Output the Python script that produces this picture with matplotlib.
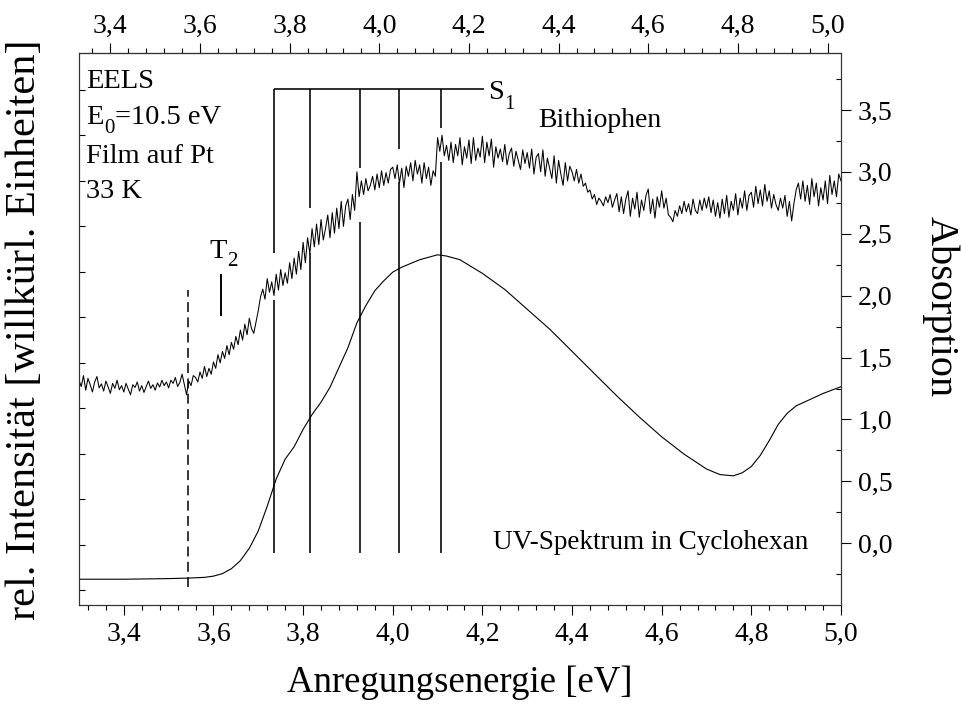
import matplotlib
matplotlib.use('Agg')
import matplotlib.pyplot as plt
from matplotlib.ticker import MultipleLocator, FuncFormatter
import numpy as np

plt.rcParams['font.family'] = ['Liberation Serif', 'DejaVu Serif']

# EELS spectrum (left axis, arb. units), sampled every 0.005 eV from 3.30 to 5.00
eels_intensity = [
    4.62, 4.48, 4.72, 4.40, 4.66, 4.52, 4.36, 4.58, 4.70, 4.45, 4.54, 4.38, 4.60, 4.47, 4.33, 4.55, 4.44, 4.62, 4.41, 4.50,  # 3.30
    4.36, 4.55, 4.42, 4.30, 4.52, 4.46, 4.58, 4.38, 4.50, 4.35, 4.48, 4.60, 4.44, 4.52, 4.40, 4.56, 4.47, 4.62, 4.50, 4.58,  # 3.40
    4.45, 4.62, 4.55, 4.68, 4.48, 4.57, 4.75, 4.52, 4.30, 4.60, 4.50, 4.72, 4.68, 4.58, 4.80, 4.66, 4.92, 4.70, 4.88, 4.75,  # 3.50
    5.02, 4.88, 5.18, 5.00, 5.25, 5.10, 5.38, 5.18, 5.45, 5.30, 5.58, 5.40, 5.72, 5.50, 5.85, 5.62, 5.98, 5.75, 5.65, 5.90,  # 3.60
    6.15, 6.45, 6.62, 6.40, 6.85, 6.55, 6.78, 6.48, 6.95, 6.60, 7.05, 6.70, 6.98, 6.75, 7.20, 6.85, 7.30, 6.95, 7.45, 7.05,  # 3.70
    7.65, 7.20, 7.75, 7.40, 7.95, 7.55, 8.05, 7.60, 8.15, 7.70, 7.95, 8.25, 7.75, 8.30, 7.85, 8.40, 7.95, 8.55, 8.00, 8.45,  # 3.80
    8.60, 8.15, 8.70, 8.35, 9.20, 8.65, 9.00, 8.70, 9.05, 8.78, 8.90, 9.10, 8.80, 9.15, 8.85, 9.22, 8.90, 9.18, 8.95, 9.25,  # 3.90
    9.30, 9.05, 9.35, 8.95, 9.28, 8.85, 9.32, 9.10, 9.40, 9.00, 9.45, 9.15, 9.35, 8.95, 9.40, 9.05, 9.30, 8.90, 9.22, 9.10,  # 4.00
    9.95, 9.65, 10.00, 9.55, 9.78, 9.45, 9.85, 9.40, 9.80, 9.55, 9.95, 9.35, 9.75, 9.50, 9.90, 9.38, 9.95, 9.45, 9.72, 9.52,  # 4.10
    9.98, 9.40, 9.85, 9.55, 9.92, 9.30, 9.75, 9.50, 9.70, 9.42, 9.80, 9.35, 9.60, 9.72, 9.32, 9.65, 9.45, 9.25, 9.68, 9.38,  # 4.20
    9.62, 9.28, 9.70, 9.15, 9.52, 9.60, 9.20, 9.68, 9.10, 9.50, 9.28, 9.05, 9.55, 8.95, 9.45, 9.15, 8.90, 9.40, 9.00, 9.32,  # 4.30
    9.20, 9.00, 9.25, 8.95, 9.15, 8.88, 8.95, 8.75, 8.80, 8.60, 8.70, 8.48, 8.62, 8.55, 8.45, 8.65, 8.52, 8.70, 8.42, 8.58,  # 4.40
    8.72, 8.32, 8.65, 8.28, 8.60, 8.78, 8.22, 8.62, 8.38, 8.75, 8.20, 8.58, 8.35, 8.68, 8.82, 8.28, 8.60, 8.18, 8.65, 8.42,  # 4.50
    8.78, 8.40, 8.62, 8.25, 8.20, 8.10, 8.35, 8.22, 8.45, 8.28, 8.55, 8.32, 8.50, 8.25, 8.60, 8.35, 8.28, 8.58, 8.35, 8.62,  # 4.60
    8.40, 8.65, 8.30, 8.58, 8.22, 8.52, 8.18, 8.60, 8.28, 8.68, 8.20, 8.55, 8.35, 8.72, 8.25, 8.62, 8.40, 8.78, 8.35, 8.68,  # 4.70
    8.75, 8.42, 8.88, 8.50, 8.80, 8.45, 8.92, 8.55, 8.78, 8.40, 8.70, 8.48, 8.35, 8.62, 8.40, 8.68, 8.22, 8.55, 8.12, 8.50,  # 4.80
    8.80, 8.95, 8.60, 9.00, 8.55, 8.90, 8.48, 9.05, 8.65, 8.95, 8.45, 8.85, 8.58, 9.00, 8.50, 9.12, 8.70, 9.00, 8.65, 9.15,  # 4.90
    9.00,                                                                                                                     # 5.00
]
eels_energy = np.linspace(3.30, 5.00, len(eels_intensity))

# UV absorption in cyclohexane (right axis)
uv_energy = [3.30, 3.40, 3.50, 3.55, 3.58, 3.60, 3.62, 3.64, 3.66, 3.68,
             3.70, 3.72, 3.74, 3.76, 3.78, 3.80, 3.82, 3.84, 3.86, 3.88,
             3.90, 3.92, 3.94, 3.96, 3.98, 4.00, 4.02, 4.04, 4.06, 4.08,
             4.10, 4.12, 4.15, 4.20, 4.25, 4.30, 4.35, 4.40, 4.45, 4.50,
             4.55, 4.60, 4.65, 4.70, 4.73, 4.76, 4.78, 4.80, 4.82, 4.84,
             4.86, 4.88, 4.90, 4.93, 4.96, 5.00]
uv_absorption = [-0.29, -0.29, -0.285, -0.28, -0.275, -0.265, -0.245, -0.205, -0.14, -0.04,
                 0.10, 0.30, 0.52, 0.68, 0.78, 0.92, 1.04, 1.14, 1.26, 1.42,
                 1.58, 1.78, 1.92, 2.04, 2.12, 2.19, 2.23, 2.26, 2.29, 2.31,
                 2.33, 2.32, 2.29, 2.18, 2.05, 1.89, 1.73, 1.55, 1.37, 1.19,
                 1.02, 0.86, 0.72, 0.60, 0.555, 0.545, 0.57, 0.62, 0.71, 0.83,
                 0.96, 1.05, 1.11, 1.16, 1.21, 1.265]

# S1 vibronic progression (eV) and where the marker lines are interrupted by the EELS trace
s1_energies = [3.735, 3.815, 3.926, 4.013, 4.107]
s1_gap_top = [7.42, 8.41, 9.29, 9.70, 10.16]
s1_gap_bottom = [6.38, 7.42, 8.10, 8.98, 9.41]
s1_top, s1_bottom = 11.02, 0.83
t2_energy = 3.616
onset_energy = 3.544


def comma_fmt(v, pos):
    return ('%.1f' % v).replace('.', ',')


def subscript_text(ax, x, y, main, sub, rest='', fontsize=20.5, subsize=15, drop=5.5):
    # Draw main letter, a dropped subscript, and the remaining text on the main baseline
    t = ax.text(x, y, main, transform=ax.transAxes, fontsize=fontsize, va='bottom')
    s = ax.annotate(sub, xy=(1, 0), xycoords=t, xytext=(0.3, -drop), textcoords='offset points',
                    fontsize=subsize, va='bottom', ha='left')
    if rest:
        ax.annotate(rest, xy=(1, 0), xycoords=(s, t), xytext=(0.3, 0), textcoords='offset points',
                    fontsize=fontsize, va='bottom', ha='left')


fig = plt.figure(figsize=(9.61, 7.07), dpi=100)
ax = fig.add_axes([0.0822, 0.1443, 0.7929, 0.7808])
ax2 = ax.twinx()

# Curves
ax.plot(eels_energy, eels_intensity, color='black', lw=0.75)
ax2.plot(uv_energy, uv_absorption, color='black', lw=0.8)

# S1 progression lines, broken where the EELS trace runs
for e, gt, gb in zip(s1_energies, s1_gap_top, s1_gap_bottom):
    ax.vlines(e, gt, s1_top, color='black', lw=1.15)
    ax.vlines(e, s1_bottom, gb, color='black', lw=1.15)
ax.hlines(s1_top, s1_energies[0], 4.204, color='black', lw=1.15)

# T2 marker and dashed onset
ax.vlines(t2_energy, 6.03, 6.96, color='black', lw=1.4)
ax.plot([onset_energy, onset_energy], [0.08, 6.60], color='black', lw=1.1, dashes=(6.5, 3.5))

# Limits
ax.set_xlim(3.30, 5.00)
ax.set_ylim(-0.32, 11.81)
ax2.set_ylim(-0.498, 3.96)

# Bottom axis
ax.xaxis.set_major_locator(MultipleLocator(0.2))
ax.xaxis.set_minor_locator(MultipleLocator(0.04))
ax.xaxis.set_major_formatter(FuncFormatter(comma_fmt))
ax.tick_params(axis='x', which='major', direction='out', length=7.2, width=0.8, labelsize=20, pad=5)
ax.tick_params(axis='x', which='minor', direction='out', length=3.6, width=0.8)

# Left axis: ticks only
ax.yaxis.set_major_locator(MultipleLocator(1))
ax.tick_params(axis='y', which='major', direction='in', length=4, width=0.8, labelleft=False)

# Right axis
ax2.yaxis.set_major_locator(MultipleLocator(0.5))
ax2.yaxis.set_minor_locator(MultipleLocator(0.25))
ax2.yaxis.set_major_formatter(FuncFormatter(comma_fmt))
ax2.tick_params(axis='y', which='major', direction='out', length=7.2, width=0.8, labelsize=20, pad=5)
ax2.tick_params(axis='y', which='minor', direction='in', length=3.6, width=0.8)

# Top axis (shifted energy scale)
secax = ax.secondary_xaxis('top', functions=(lambda x: x + 0.03, lambda x: x - 0.03))
secax.xaxis.set_major_locator(MultipleLocator(0.2))
secax.xaxis.set_minor_locator(MultipleLocator(0.04))
secax.xaxis.set_major_formatter(FuncFormatter(comma_fmt))
secax.tick_params(axis='x', which='major', direction='out', length=7.2, width=0.8, labelsize=20, pad=3)
secax.tick_params(axis='x', which='minor', direction='out', length=3.6, width=0.8)

for a in (ax, ax2, secax):
    for sp in a.spines.values():
        sp.set_color('#333333')
        sp.set_linewidth(0.8)

# Axis labels
ax.set_xlabel('Anregungsenergie [eV]', fontsize=26.5, va='center')
ax.xaxis.set_label_coords(0.5, -0.140)
ax.set_ylabel('rel. Intensität [willkürl. Einheiten]', fontsize=30.5, va='center')
ax.yaxis.set_label_coords(-0.071, 0.498)
ax2.set_ylabel('Absorption', fontsize=29, rotation=270, va='center')
ax2.yaxis.set_label_coords(1.13, 0.54)

# Annotations
txt = dict(transform=ax.transAxes, fontsize=20.5, va='baseline', ha='left')
ax.text(0.0092, 0.9366, 'EELS', **txt)
subscript_text(ax, 0.0092, 0.8600, 'E', '0', '=10.5 eV')
ax.text(0.0092, 0.8007, 'Film auf Pt', **txt)
ax.text(0.0092, 0.7373, '33 K', **txt)
ax.text(0.6024, 0.866, 'Bithiophen', transform=ax.transAxes, fontsize=20, va='baseline')
ax.text(0.5433, 0.1014, 'UV-Spektrum in Cyclohexan', transform=ax.transAxes, fontsize=19.5, va='baseline')
subscript_text(ax, 0.1706, 0.6172, 'T', '2', drop=4.5)
subscript_text(ax, 0.5367, 0.9053, 'S', '1', drop=6.5)

fig.savefig('out.png', dpi=100)
